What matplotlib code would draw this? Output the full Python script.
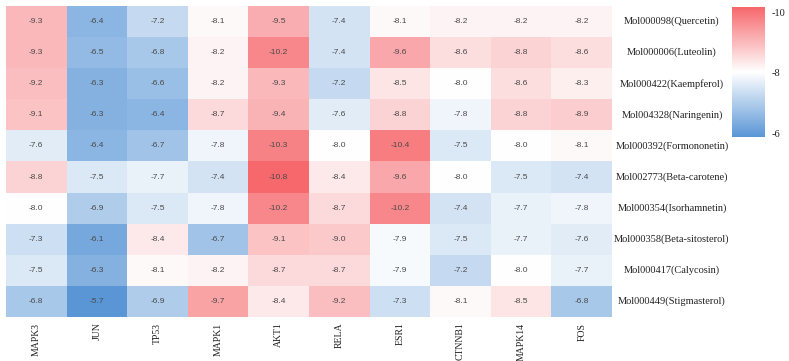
import numpy as np
import matplotlib
matplotlib.use("Agg")
import matplotlib.pyplot as plt
from matplotlib.colors import LinearSegmentedColormap, Normalize, TwoSlopeNorm
from matplotlib.cm import ScalarMappable

targets = ["MAPK3", "JUN", "TP53", "MAPK1", "AKT1", "RELA", "ESR1", "CTNNB1", "MAPK14", "FOS"]
molecules = ["Mol000098(Quercetin)", "Mol000006(Luteolin)", "Mol000422(Kaempferol)",
             "Mol004328(Naringenin)", "Mol000392(Formononetin)", "Mol002773(Beta-carotene)",
             "Mol000354(Isorhamnetin)", "Mol000358(Beta-sitosterol)", "Mol000417(Calycosin)",
             "Mol000449(Stigmasterol)"]

quercetin = [-9.3, -6.4, -7.2, -8.1, -9.5, -7.4, -8.1, -8.2, -8.2, -8.2]
luteolin = [-9.3, -6.5, -6.8, -8.2, -10.2, -7.4, -9.6, -8.6, -8.8, -8.6]
kaempferol = [-9.2, -6.3, -6.6, -8.2, -9.3, -7.2, -8.5, -8.0, -8.6, -8.3]
naringenin = [-9.1, -6.3, -6.4, -8.7, -9.4, -7.6, -8.8, -7.8, -8.8, -8.9]
formononetin = [-7.6, -6.4, -6.7, -7.8, -10.3, -8.0, -10.4, -7.5, -8.0, -8.1]
beta_carotene = [-8.8, -7.5, -7.7, -7.4, -10.8, -8.4, -9.6, -8.0, -7.5, -7.4]
isorhamnetin = [-8.0, -6.9, -7.5, -7.8, -10.2, -8.7, -10.2, -7.4, -7.7, -7.8]
beta_sitosterol = [-7.3, -6.1, -8.4, -6.7, -9.1, -9.0, -7.9, -7.5, -7.7, -7.6]
calycosin = [-7.5, -6.3, -8.1, -8.2, -8.7, -8.7, -7.9, -7.2, -8.0, -7.7]
stigmasterol = [-6.8, -5.7, -6.9, -9.7, -8.4, -9.2, -7.3, -8.1, -8.5, -6.8]

cbar_ticks = [-10, -8, -6]

data = np.array([quercetin, luteolin, kaempferol, naringenin, formononetin,
                 beta_carotene, isorhamnetin, beta_sitosterol, calycosin, stigmasterol])

cmap = LinearSegmentedColormap.from_list("rwb", ["#F6686C", "#FFFFFF", "#5A96D6"])
norm = TwoSlopeNorm(vcenter=-8.0, vmin=data.min(), vmax=data.max())

fig = plt.figure(figsize=(7.89, 3.61), dpi=100)
ax = fig.add_axes([6/789, 1-317/361, 606/789, 311/361])
im = ax.imshow(data, cmap=cmap, norm=norm, aspect="auto", interpolation="nearest")

for i in range(data.shape[0]):
    for j in range(data.shape[1]):
        ax.text(j, i, f"{data[i, j]:.1f}", ha="center", va="center",
                fontsize=6, color="#4a4a4a", family="Liberation Sans")

for s in ax.spines.values():
    s.set_visible(False)
ax.set_xticks(np.arange(len(targets)))
ax.set_xticklabels(targets, rotation=90, family="Liberation Serif", fontsize=7, color="#222222")
ax.tick_params(axis="x", length=0, pad=4)
ax.set_yticks([])
for i, name in enumerate(molecules):
    ax.text(672/789, 1 - (6 + 31.1*(i+0.5))/361, name, transform=fig.transFigure,
            ha="center", va="center", family="Liberation Serif", fontsize=7.5, color="#222222")

cax = fig.add_axes([732/789, 1-137/361, 33/789, 130/361])
sm = ScalarMappable(norm=Normalize(vmin=-10.17, vmax=-5.87), cmap=cmap)
cb = fig.colorbar(sm, cax=cax)
cb.outline.set_visible(False)
cax.invert_yaxis()
cb.set_ticks(cbar_ticks)
cb.set_ticklabels([str(t) for t in cbar_ticks])
cax.tick_params(length=0, pad=5, labelsize=7.5)
for t in cax.get_yticklabels():
    t.set_family("Liberation Serif")
    t.set_color("#222222")

fig.savefig("out.png", dpi=100)
